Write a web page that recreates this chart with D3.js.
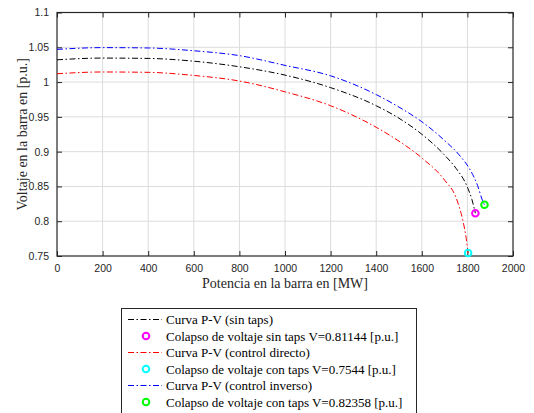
<!DOCTYPE html>
<html>
<head>
<meta charset="utf-8">
<script src="https://cdn.jsdelivr.net/npm/d3@7"></script>
<style>
  body { margin: 0; background: #fff; }
  svg { display: block; }
</style>
</head>
<body>
<svg id="chart" width="534" height="413"></svg>
<script>
// Potencia [MW] / Voltaje [p.u.]
const pSinTaps = [0, 200, 400, 600, 800, 1000, 1200, 1400, 1500, 1600, 1700, 1750, 1800, 1820, 1835];
const vSinTaps = [1.032, 1.0345, 1.034, 1.030, 1.022, 1.010, 0.992, 0.966, 0.948, 0.925, 0.895, 0.876, 0.849, 0.831, 0.81144];

const pDirecto = [0, 200, 400, 600, 800, 1000, 1200, 1400, 1500, 1600, 1700, 1750, 1780, 1795, 1803];
const vDirecto = [1.012, 1.0145, 1.014, 1.0095, 1.0015, 0.986, 0.966, 0.935, 0.915, 0.891, 0.859, 0.834, 0.801, 0.775, 0.7544];

const pInverso = [0, 200, 400, 600, 800, 1000, 1200, 1400, 1500, 1600, 1700, 1770, 1810, 1845, 1866, 1875];
const vInverso = [1.047, 1.0495, 1.049, 1.045, 1.038, 1.024, 1.009, 0.982, 0.964, 0.943, 0.916, 0.893, 0.875, 0.851, 0.830, 0.82358];

const collapseP = [1835, 1803, 1875];
const collapseV = [0.81144, 0.7544, 0.82358];

const xTicks = [0, 200, 400, 600, 800, 1000, 1200, 1400, 1600, 1800, 2000];
const yTicks = [0.75, 0.8, 0.85, 0.9, 0.95, 1, 1.05, 1.1];

const legendLabels = [
  "Curva P-V (sin taps)",
  "Colapso de voltaje sin taps V=0.81144 [p.u.]",
  "Curva P-V (control directo)",
  "Colapso de voltaje con taps V=0.7544 [p.u.]",
  "Curva P-V (control inverso)",
  "Colapso de voltaje con taps V=0.82358 [p.u.]"
];

const lineColors = ["#000000", "#ff0000", "#0000ff"];
const markerColors = ["#ff00ff", "#00ffff", "#00ff00"];

const margin = {left: 57, right: 21, top: 12.5, bottom: 157};
const width = 534, height = 413;
const dash = "6,2.5,1.5,2.5";
const serif = "'Liberation Serif', 'Times New Roman', serif";

const svg = d3.select('#chart');
svg.append('rect').attr('width', width).attr('height', height).attr('fill', '#fff');

const x = d3.scaleLinear().domain([0, 2000]).range([margin.left, width - margin.right]);
const y = d3.scaleLinear().domain([0.75, 1.1]).range([height - margin.bottom, margin.top]);

const plot = svg.append('g');

// grid
plot.append('g')
.selectAll('line')
.data(xTicks.slice(1, -1))
.join('line')
.attr('x1', d => x(d)).attr('x2', d => x(d))
.attr('y1', y(0.75)).attr('y2', y(1.1))
.attr('stroke', '#dcdcdc').attr('stroke-width', 1);
plot.append('g')
.selectAll('line')
.data(yTicks.slice(1, -1))
.join('line')
.attr('x1', x(0)).attr('x2', x(2000))
.attr('y1', d => y(d)).attr('y2', d => y(d))
.attr('stroke', '#dcdcdc').attr('stroke-width', 1);

// axes, MATLAB style: ticks inward on all sides
const axisStyle = g => {
    g.select('.domain').remove();
    g.selectAll('.tick line').attr('stroke', '#262626');
    g.selectAll('.tick text')
    .attr('fill', '#262626')
    .attr('font-family', "'Liberation Sans', Arial, sans-serif")
    .attr('font-size', 10.5);
};
plot.append('g')
.attr('transform', `translate(0,${y(0.75)})`)
.call(d3.axisBottom(x).tickValues(xTicks).tickSizeInner(-5).tickSizeOuter(0).tickPadding(9).tickFormat(d3.format('d')))
.call(axisStyle);
plot.append('g')
.attr('transform', `translate(0,${y(1.1)})`)
.call(d3.axisTop(x).tickValues(xTicks).tickSizeInner(-5).tickSizeOuter(0).tickFormat(''))
.call(axisStyle);
plot.append('g')
.attr('transform', `translate(${x(0)},0)`)
.call(d3.axisLeft(y).tickValues(yTicks).tickSizeInner(-5).tickSizeOuter(0).tickPadding(8).tickFormat(d => String(d)))
.call(axisStyle);
plot.append('g')
.attr('transform', `translate(${x(2000)},0)`)
.call(d3.axisRight(y).tickValues(yTicks).tickSizeInner(-5).tickSizeOuter(0).tickFormat(''))
.call(axisStyle);

plot.append('rect')
.attr('x', x(0)).attr('y', y(1.1))
.attr('width', x(2000) - x(0)).attr('height', y(0.75) - y(1.1))
.attr('fill', 'none').attr('stroke', '#262626').attr('stroke-width', 1.2);

// curves
const series = [
    {p: pSinTaps, v: vSinTaps},
    {p: pDirecto, v: vDirecto},
    {p: pInverso, v: vInverso}
];
const line = d3.line()
.x(d => x(d[0]))
.y(d => y(d[1]))
.curve(d3.curveMonotoneX);

plot.append('g')
.selectAll('path')
.data(series)
.join('path')
.attr('d', s => line(s.p.map((p, i) => [p, s.v[i]])))
.attr('fill', 'none')
.attr('stroke', (s, i) => lineColors[i])
.attr('stroke-width', 1)
.attr('stroke-dasharray', dash);

plot.append('g')
.selectAll('circle')
.data(collapseP)
.join('circle')
.attr('cx', d => x(d))
.attr('cy', (d, i) => y(collapseV[i]))
.attr('r', 3.3)
.attr('fill', 'none')
.attr('stroke', (d, i) => markerColors[i])
.attr('stroke-width', 2);

// axis titles
svg.append('text')
.attr('x', (x(0) + x(2000)) / 2)
.attr('y', 288)
.attr('text-anchor', 'middle')
.attr('font-family', serif)
.attr('font-size', 14)
.attr('fill', '#262626')
.text('Potencia en la barra en [MW]');

svg.append('text')
.attr('transform', `translate(27,${(y(0.75) + y(1.1)) / 2}) rotate(-90)`)
.attr('text-anchor', 'middle')
.attr('font-family', serif)
.attr('font-size', 14)
.attr('fill', '#262626')
.text('Voltaje en la barra en [p.u.]');

// legend
const legend = svg.append('g');
legend.append('rect')
.attr('x', 121.5).attr('y', 308.5)
.attr('width', 295).attr('height', 110)
.attr('fill', '#fff')
.attr('stroke', '#262626').attr('stroke-width', 1);

const rowY = i => 319.5 + i * 16.5;
legendLabels.forEach((label, i) => {
    const k = Math.floor(i / 2);
    if (i % 2 === 0) {
        legend.append('line')
        .attr('x1', 128).attr('x2', 162)
        .attr('y1', rowY(i)).attr('y2', rowY(i))
        .attr('stroke', lineColors[k])
        .attr('stroke-width', 1)
        .attr('stroke-dasharray', dash);
    } else {
        legend.append('circle')
        .attr('cx', 146).attr('cy', rowY(i))
        .attr('r', 3.3)
        .attr('fill', 'none')
        .attr('stroke', markerColors[k])
        .attr('stroke-width', 2);
    }
    legend.append('text')
    .attr('x', 166)
    .attr('y', rowY(i))
    .attr('dominant-baseline', 'central')
    .attr('font-family', serif)
    .attr('font-size', 13)
    .attr('fill', '#000')
    .text(label);
});
</script>
</body>
</html>
